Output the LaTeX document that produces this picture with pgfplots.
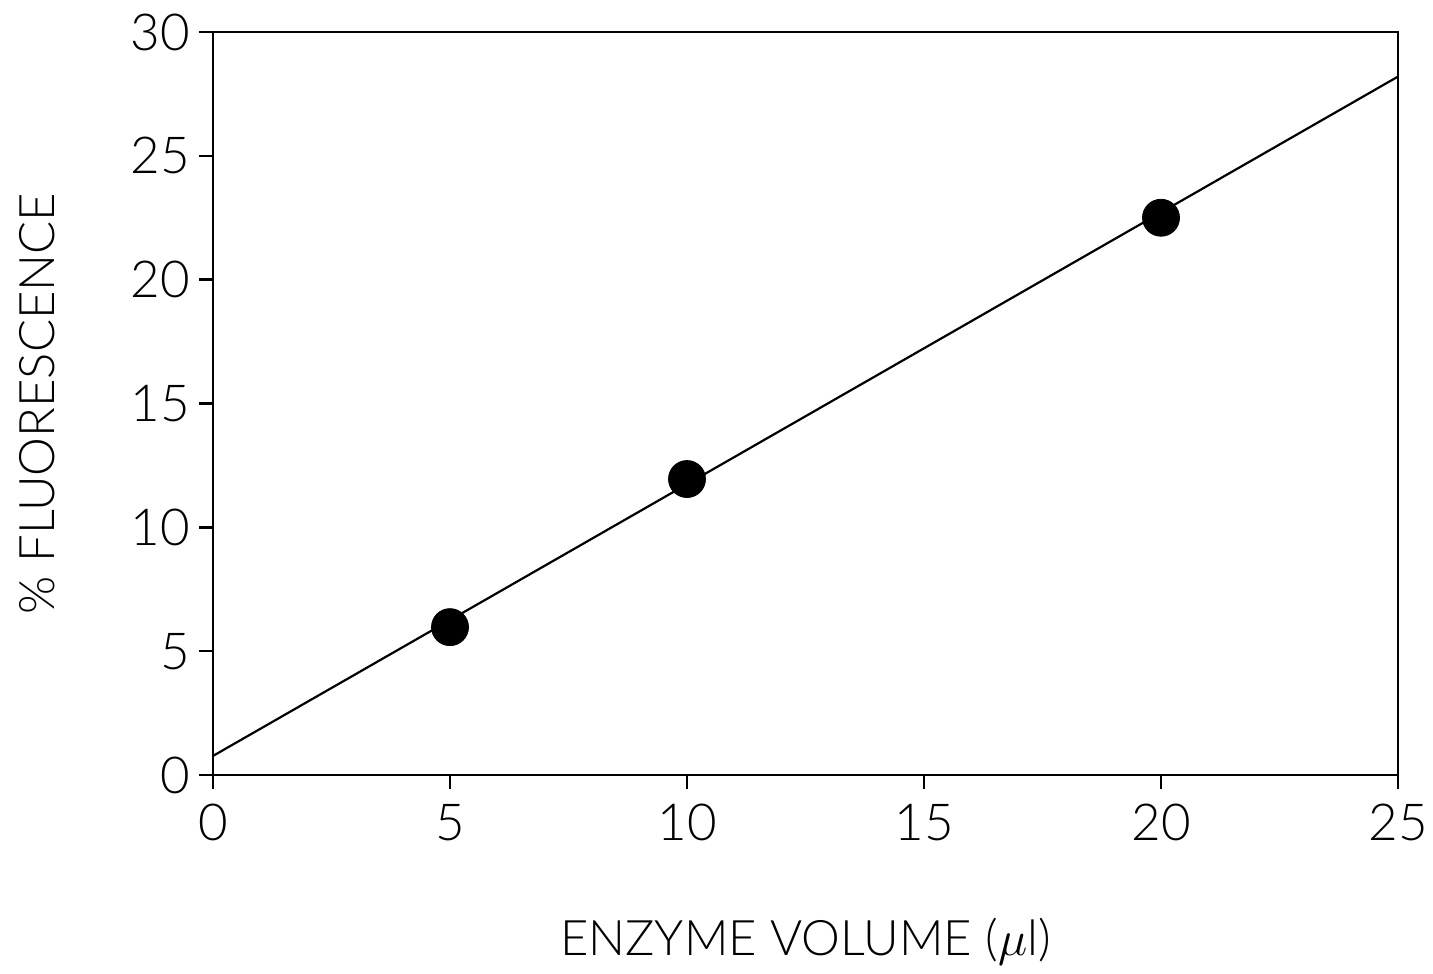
\documentclass[border=0pt]{standalone}
\usepackage{fontspec}
\setmainfont{Lato}[UprightFont=* Light]
\usepackage{pgfplots}
\pgfplotsset{compat=1.18}
\begin{document}
\begin{tikzpicture}
\begin{axis}[
  at={(0,0)}, anchor=south west,
  scale only axis, width=592.5bp, height=371.5bp,
  xmin=0, xmax=25, ymin=0, ymax=30,
  xtick={0,5,...,25}, ytick={0,5,...,30},
  tick align=outside, xtick pos=bottom, ytick pos=left,
  major tick length=7bp,
  axis line style={line width=1.4bp},
  every tick/.style={line width=1.2bp, black},
  /pgf/number format/assume math mode=true,
  tick label style={font=\fontsize{25.5bp}{28bp}\selectfont},
  xticklabel style={yshift=-4bp},
  yticklabel style={xshift=-1bp},
  label style={font=\fontsize{24.5bp}{28bp}\selectfont},
  xlabel={ENZYME VOLUME ($\mu$l)},
  ylabel={\% FLUORESCENCE},
  xlabel style={at={(rel axis cs:0.5,0)}, anchor=center, yshift=-83.5bp},
  ylabel style={at={(rel axis cs:0,0.5)}, anchor=center, yshift=88bp},
  clip=false,
]
\addplot[black, line width=1.1bp] coordinates {(0,0.77) (25,28.2)};
\addplot[only marks, mark=*, mark size=9.25bp, black] coordinates {(5,5.97) (10,11.95) (20,22.5)};
\end{axis}
\pgfresetboundingbox
\path[use as bounding box] (-106.5bp,-99.5bp) rectangle (610bp,387.5bp);
\end{tikzpicture}
\end{document}
